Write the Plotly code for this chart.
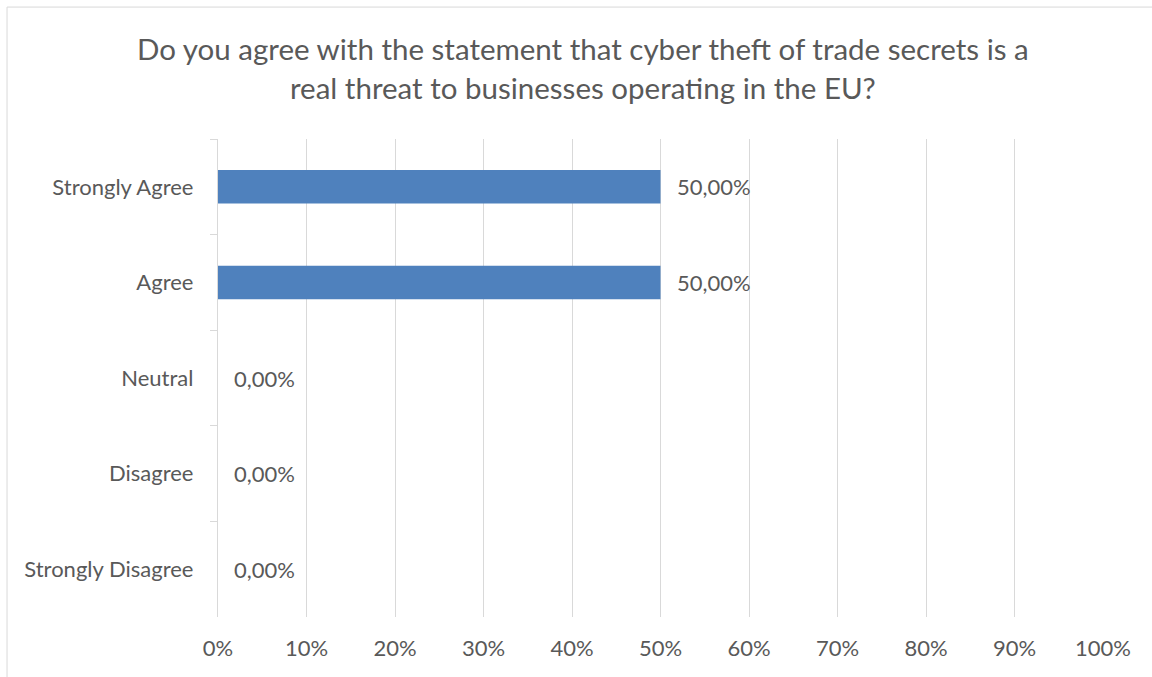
import plotly.graph_objects as go

# Survey answers and share of respondents (fraction of total)
categories = ["Strongly Agree", "Agree", "Neutral", "Disagree", "Strongly Disagree"]
shares = [0.50, 0.50, 0.00, 0.00, 0.00]
x_ticks = [i / 10 for i in range(11)]
x_tick_labels = [f"{i * 10}%" for i in range(11)]

title_text = ("Do you agree with the statement that cyber theft of trade secrets is a"
              "<br>real threat to businesses operating in the EU?")

FONT = "Lato, Calibri, Carlito, sans-serif"
TEXT = "#595959"
GRID = "#D9D9D9"
BAR = "#4F81BD"


def pct_label(v):
    return f"{v * 100:.2f}".replace(".", ",") + "%"


fig = go.Figure(
    go.Bar(
        x=shares,
        y=categories,
        orientation="h",
        marker=dict(color=BAR, line=dict(width=0)),
        width=0.35,
        hoverinfo="skip",
    )
)

# value labels just to the right of each bar end
for cat, v in zip(categories, shares):
    fig.add_annotation(
        x=v, y=cat, xref="x", yref="y",
        text=pct_label(v), showarrow=False,
        xanchor="left", xshift=14,
        font=dict(family=FONT, size=22, color=TEXT),
    )

# chart frame border
fig.add_shape(
    type="rect", xref="paper", yref="paper",
    x0=-0.2384, x1=1.2, y0=-0.3, y1=1.276,
    line=dict(color=GRID, width=1), fillcolor="rgba(0,0,0,0)", layer="below",
)

fig.update_layout(
    width=1152, height=677,
    margin=dict(l=218, r=49, t=139, b=60),
    paper_bgcolor="white", plot_bgcolor="white",
    showlegend=False,
    title=dict(
        text=title_text, x=0.506, xanchor="center", y=0.911, yanchor="middle",
        font=dict(family=FONT, size=29.5, color=TEXT),
    ),
    font=dict(family=FONT, color=TEXT),
    xaxis=dict(
        range=[0, 1], tickvals=x_ticks, ticktext=x_tick_labels,
        showgrid=True, gridcolor=GRID, gridwidth=1.3,
        zeroline=False, showline=False, ticks="",
        tickfont=dict(family=FONT, size=22, color=TEXT),
        ticklabelstandoff=16, fixedrange=True,
    ),
    yaxis=dict(
        categoryorder="array", categoryarray=categories, autorange="reversed",
        showline=True, linecolor=GRID, linewidth=1.3,
        ticks="outside", tickson="boundaries", ticklen=7, tickcolor=GRID, tickwidth=1.3,
        showgrid=False,
        tickfont=dict(family=FONT, size=22, color=TEXT),
        ticklabelstandoff=19, fixedrange=True,
    ),
)

fig.write_html("out.html")
